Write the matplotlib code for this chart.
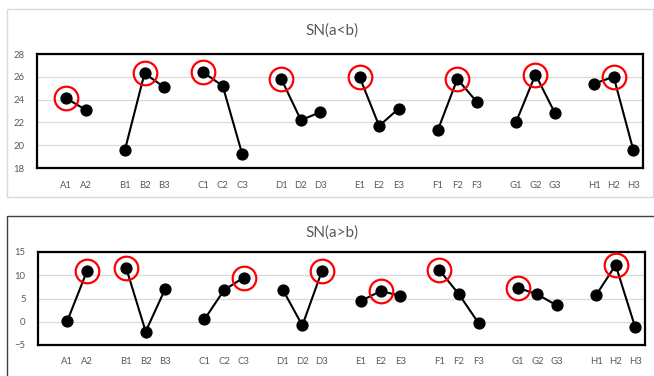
import numpy as np
import matplotlib
matplotlib.use("Agg")
import matplotlib.pyplot as plt
from matplotlib.patches import Rectangle

plt.rcParams['font.family'] = ['Lato', 'DejaVu Sans']

# Factor levels and S/N ratios
factors = ["A", "B", "C", "D", "E", "F", "G", "H"]
levels_per_factor = [2, 3, 3, 3, 3, 3, 3, 3]

sn_a_lt_b = [24.1, 23.1,
             19.6, 26.3, 25.1,
             26.4, 25.2, 19.2,
             25.8, 22.2, 22.9,
             26.0, 21.7, 23.2,
             21.3, 25.8, 23.8,
             22.0, 26.2, 22.8,
             25.4, 26.0, 19.6]
best_a_lt_b = ["A1", "B2", "C1", "D1", "E1", "F2", "G2", "H2"]

sn_a_gt_b = [0.2, 10.9,
             11.6, -2.1, 7.1,
             0.5, 6.8, 9.5,
             6.9, -0.8, 10.9,
             4.5, 6.6, 5.6,
             11.1, 5.9, -0.3,
             7.3, 5.9, 3.5,
             5.7, 12.2, -1.2]
best_a_gt_b = ["A2", "B1", "C3", "D3", "E2", "F1", "G1", "H2"]

W, H = 654, 376
fig = plt.figure(figsize=(W / 100, H / 100), dpi=100)
fig.patch.set_facecolor("white")

GRAY_TXT = "#595959"


def px_axes(x0, y0, x1, y1):
    return fig.add_axes([x0 / W, 1 - y1 / H, (x1 - x0) / W, (y1 - y0) / H])


def build_series(values):
    # one leading empty slot, then a blank slot between factor groups
    labels, ys = [""], [np.nan]
    k = 0
    for gi, (f, n) in enumerate(zip(factors, levels_per_factor)):
        if gi > 0:
            labels.append("")
            ys.append(np.nan)
        for j in range(n):
            labels.append(f"{f}{j + 1}")
            ys.append(values[k])
            k += 1
    return labels, np.array(ys, dtype=float)


def draw_chart(box, area, title, title_y, values, best, ylim, yticks, box_color):
    # chart frame
    bx0, by0, bx1, by1 = box
    fig.patches.append(Rectangle((bx0 / W, 1 - by1 / H), (bx1 - bx0) / W, (by1 - by0) / H,
                                 transform=fig.transFigure, fill=False,
                                 edgecolor=box_color, linewidth=1.0))
    fig.text(332 / W, 1 - title_y / H, title, ha="center", va="center",
             fontsize=11, color=GRAY_TXT)

    ax = px_axes(*area)
    labels, ys = build_series(values)
    x = np.arange(len(labels))
    ax.plot(x, ys, color="black", lw=1.5, marker="o", markersize=7.8,
            markerfacecolor="black", markeredgecolor="black", zorder=3)
    for lab in best:
        i = labels.index(lab)
        ax.plot(x[i], ys[i], marker="o", markersize=17, markerfacecolor="none",
                markeredgecolor="#ff0000", markeredgewidth=1.6, zorder=4,
                clip_on=False)
    ax.set_xlim(-0.5, len(labels) - 0.5)
    ax.set_ylim(*ylim)
    ax.set_yticks(yticks)
    ax.set_xticks(x)
    ax.set_xticklabels(labels)
    ax.grid(axis="y", color="#d9d9d9", lw=0.9)
    ax.set_axisbelow(True)
    ax.tick_params(length=0, labelsize=6.8, labelcolor=GRAY_TXT)
    ax.tick_params(axis="y", pad=9)
    ax.tick_params(axis="x", pad=9)
    for s in ax.spines.values():
        s.set_color("black")
        s.set_linewidth(1.6)
    return ax


draw_chart((7, 9, 653, 197), (37, 54, 643, 168), "SN(a<b)", 31,
           sn_a_lt_b, best_a_lt_b, (18, 28), [18, 20, 22, 24, 26, 28], "#d9d9d9")
draw_chart((7, 216, 660, 390), (38, 252, 645, 345), "SN(a>b)", 233,
           sn_a_gt_b, best_a_gt_b, (-5, 15), [-5, 0, 5, 10, 15], "#404040")

fig.savefig("out.png", dpi=100)
